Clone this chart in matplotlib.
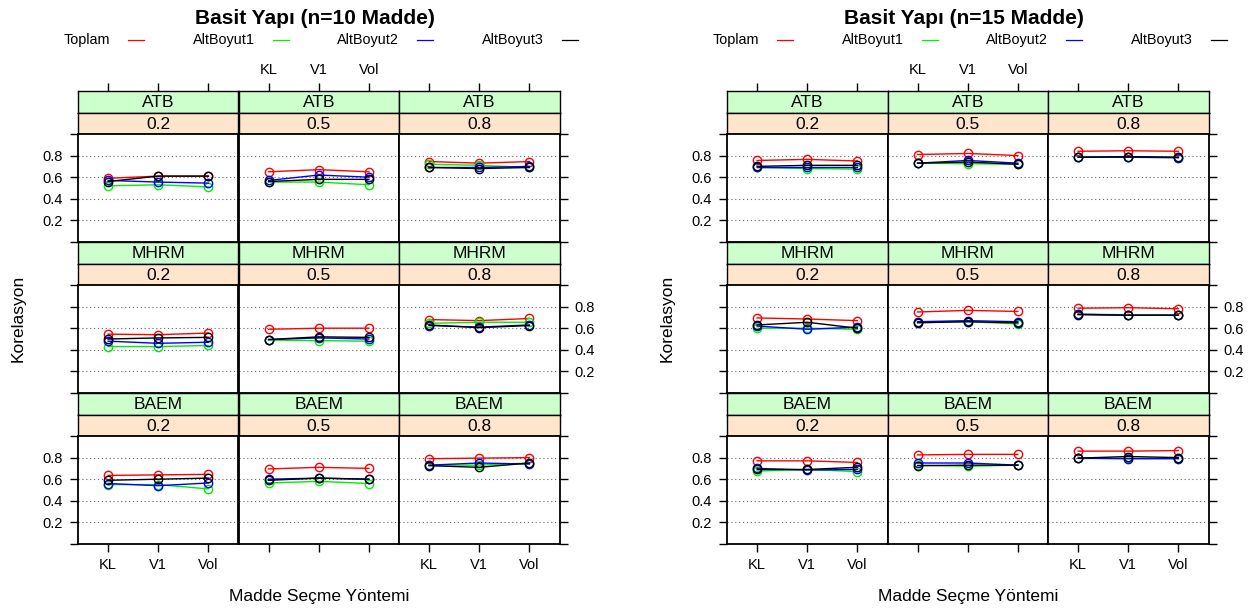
import matplotlib
matplotlib.use('Agg')
import matplotlib.pyplot as plt
from matplotlib.lines import Line2D

plt.rcParams['font.family'] = ['Liberation Sans', 'DejaVu Sans']

# kategoriler
yontem = ['KL', 'V1', 'Vol']
kestirim = ['ATB', 'MHRM', 'BAEM']
rho = ['0.2', '0.5', '0.8']
seriler = ['Toplam', 'AltBoyut1', 'AltBoyut2', 'AltBoyut3']
renkler = ['#FF0000', '#00EE00', '#0000FF', '#000000']
y_ticks = [0, 0.2, 0.4, 0.6, 0.8, 1.0]
y_labels = ['', '0.2', '0.4', '0.6', '0.8', '']
grid_y = [0.2, 0.4, 0.6, 0.8]

# n=10 madde, [kestirim][rho][yontem]
n10_toplam = [[[0.59, 0.61, 0.61], [0.65, 0.67, 0.65], [0.745, 0.73, 0.745]],
              [[0.545, 0.54, 0.555], [0.59, 0.60, 0.60], [0.68, 0.67, 0.69]],
              [[0.635, 0.64, 0.645], [0.695, 0.71, 0.70], [0.79, 0.795, 0.80]]]
n10_alt1 = [[[0.52, 0.53, 0.51], [0.555, 0.555, 0.53], [0.72, 0.71, 0.69]],
            [[0.43, 0.43, 0.44], [0.49, 0.485, 0.48], [0.645, 0.655, 0.655]],
            [[0.55, 0.55, 0.51], [0.565, 0.58, 0.56], [0.73, 0.73, 0.75]]]
n10_alt2 = [[[0.57, 0.555, 0.545], [0.57, 0.62, 0.60], [0.69, 0.69, 0.70]],
            [[0.48, 0.46, 0.47], [0.495, 0.51, 0.50], [0.625, 0.61, 0.63]],
            [[0.56, 0.54, 0.565], [0.60, 0.61, 0.60], [0.73, 0.75, 0.74]]]
n10_alt3 = [[[0.56, 0.61, 0.61], [0.56, 0.58, 0.58], [0.69, 0.68, 0.69]],
            [[0.50, 0.51, 0.515], [0.495, 0.52, 0.515], [0.63, 0.605, 0.625]],
            [[0.59, 0.60, 0.61], [0.59, 0.61, 0.60], [0.725, 0.71, 0.75]]]

# n=15 madde
n15_toplam = [[[0.755, 0.765, 0.75], [0.81, 0.82, 0.80], [0.84, 0.845, 0.84]],
              [[0.695, 0.685, 0.67], [0.75, 0.765, 0.755], [0.785, 0.79, 0.78]],
              [[0.77, 0.77, 0.755], [0.825, 0.83, 0.83], [0.86, 0.86, 0.865]]]
n15_alt1 = [[[0.69, 0.68, 0.675], [0.73, 0.725, 0.72], [0.79, 0.79, 0.785]],
            [[0.60, 0.60, 0.59], [0.66, 0.66, 0.64], [0.73, 0.725, 0.725]],
            [[0.675, 0.69, 0.67], [0.73, 0.72, 0.73], [0.80, 0.80, 0.80]]]
n15_alt2 = [[[0.69, 0.69, 0.69], [0.73, 0.755, 0.73], [0.785, 0.785, 0.78]],
            [[0.62, 0.59, 0.61], [0.66, 0.67, 0.66], [0.73, 0.72, 0.72]],
            [[0.70, 0.685, 0.69], [0.75, 0.75, 0.73], [0.795, 0.79, 0.79]]]
n15_alt3 = [[[0.70, 0.71, 0.71], [0.73, 0.74, 0.72], [0.785, 0.79, 0.785]],
            [[0.63, 0.655, 0.60], [0.65, 0.66, 0.65], [0.725, 0.72, 0.72]],
            [[0.69, 0.69, 0.71], [0.725, 0.73, 0.73], [0.795, 0.81, 0.80]]]

W, H = 1258, 613
fig = plt.figure(figsize=(W / 100, H / 100), dpi=100)


def px_box(x, y, w, h):
    # piksel (sol-ust) -> figur kesri
    return [x / W, 1 - (y + h) / H, w / W, h / H]


def ciz(x0, baslik, veri):
    col_w = 160.5
    strip_h = 21.5
    panel_h = 108
    top0 = 91
    xs = [1, 2, 3]
    for i in range(3):
        st = top0 + i * 151
        for j in range(3):
            x = x0 + j * col_w
            # seritler
            for k, (metin, renk) in enumerate([(kestirim[i], '#CCFFCC'), (rho[j], '#FFE5CC')]):
                sax = fig.add_axes(px_box(x, st + k * strip_h, col_w, strip_h))
                sax.set_facecolor(renk)
                sax.set_xlim(0.4, 3.6)
                sax.set_ylim(0, 1)
                sax.set_yticks([])
                for s in sax.spines.values():
                    s.set_linewidth(1.0)
                sax.text(0.5, 0.45, metin, ha='center', va='center', fontsize=12.5,
                         transform=sax.transAxes)
                if i == 0 and k == 0:
                    sax.set_xticks(xs)
                    sax.set_xticklabels(yontem)
                    sax.tick_params(axis='x', bottom=False, top=True, labelbottom=False,
                                    labeltop=(j == 1), direction='out', length=6,
                                    width=1, pad=4, labelsize=10.5)
                else:
                    sax.set_xticks([])
            ax = fig.add_axes(px_box(x, st + 2 * strip_h, col_w, panel_h))
            ax.set_xlim(0.4, 3.6)
            ax.set_ylim(0, 1)
            for yv in grid_y:
                ax.axhline(yv, color='#666666', lw=0.8, ls=(0, (1, 2.5)), zorder=1)
            for s_idx, seri in enumerate(veri):
                ax.plot(xs, seri[i][j], color=renkler[s_idx], lw=1.0, marker='o',
                        markersize=6, markerfacecolor='none', markeredgewidth=1.0,
                        zorder=2 + s_idx)
            for s in ax.spines.values():
                s.set_linewidth(1.3)
            ax.set_xticks(xs)
            ax.set_xticklabels(yontem)
            ax.tick_params(axis='x', direction='out', length=6, width=1, pad=4,
                           labelsize=10.5, bottom=(i == 2), labelbottom=(i == 2 and j != 1))
            ax.set_yticks(y_ticks)
            ax.set_yticklabels(y_labels)
            ax.tick_params(axis='y', direction='out', length=6, width=1, pad=5,
                           labelsize=10.5, left=(j == 0), right=(j == 2),
                           labelleft=(j == 0 and i != 1), labelright=(j == 2 and i == 1))

    mid = x0 + 1.5 * col_w
    fig.text((x0 + 237) / W, 1 - 18 / H, baslik, ha='center', va='center',
             fontsize=15, fontweight='bold')
    for k, ad in enumerate(seriler):
        ls = x0 + 50 + k * 144.5
        fig.text((ls - 18) / W, 1 - 40 / H, ad, ha='right', va='center', fontsize=10.4)
        fig.add_artist(Line2D([ls / W, (ls + 16) / W], [1 - 40 / H, 1 - 40 / H],
                              color=renkler[k], lw=0.9))
    fig.text(mid / W, 1 - 597 / H, 'Madde Seçme Yöntemi', ha='center', va='center',
             fontsize=12.5)
    fig.text((x0 - 60) / W, 1 - 318 / H, 'Korelasyon', ha='center', va='center',
             rotation=90, fontsize=12.5)


ciz(78, 'Basit Yapı (n=10 Madde)', [n10_toplam, n10_alt1, n10_alt2, n10_alt3])
ciz(727, 'Basit Yapı (n=15 Madde)', [n15_toplam, n15_alt1, n15_alt2, n15_alt3])

fig.savefig('out.png', dpi=100)
